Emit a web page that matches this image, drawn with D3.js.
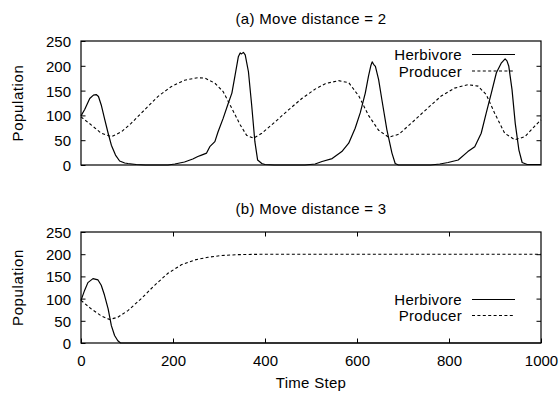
<!DOCTYPE html>
<html>
<head>
<meta charset="utf-8">
<script src="https://cdn.jsdelivr.net/npm/d3@7"></script>
<style>
  html, body { margin: 0; padding: 0; background: #fff; }
  svg text { font-family: "Liberation Sans", Arial, Helvetica, sans-serif; fill: #000; }
</style>
</head>
<body>
<svg id="chart" width="560" height="394"></svg>
<script>
// ---------------- DATA ----------------
const titles = ["(a) Move distance = 2", "(b) Move distance = 3"];
const seriesNames = ["Herbivore", "Producer"];
const yTicks = [0, 50, 100, 150, 200, 250];
const xTicks = [0, 200, 400, 600, 800, 1000];

// Panel (a): Herbivore [time, population]
const herbA = [
  [0,99],[8,112],[19,134],[27,141],[33,142],[38,138],[44,121],[51,94],[59,64],[66,40],[75,20],[84,8],
  [95,4],[102,3],[120,1],[140,0],[189,0],[204,2],[225,6],[243,12],[254,17],[262,20],[273,24],[280,37],
  [291,47],[298,67],[309,94],[320,124],[328,145],[335,181],[342,218],[346,226],[349,224],[353,227],
  [357,222],[364,188],[371,121],[378,47],[384,10],[393,3],[400,1],[420,0],[487,0],[509,2],[524,7],
  [546,13],[567,27],[582,44],[596,74],[607,105],[618,145],[625,179],[630,200],[633,208],[636,203],
  [640,199],[647,172],[654,132],[665,71],[676,24],[683,3],[690,0],[760,0],[780,2],[798,5],[820,10],
  [841,27],[856,37],[870,64],[881,105],[892,145],[903,186],[914,206],[918,210],[922,214],[926,210],
  [930,199],[937,152],[944,84],[952,30],[959,5],[970,1],[1000,1]
];
// Panel (a): Producer
const prodA = [
  [0,97],[22,81],[44,64],[66,57],[88,67],[109,84],[138,111],[167,138],[196,158],[225,171],[254,176],
  [270,175],[291,165],[309,148],[328,114],[346,81],[360,60],[375,54],[393,64],[422,87],[451,111],
  [480,134],[509,153],[531,164],[560,170],[582,166],[604,139],[625,100],[647,70],[669,56],[691,62],
  [720,86],[754,115],[783,139],[812,155],[841,162],[863,159],[881,142],[899,105],[921,64],[943,51],
  [965,57],[986,78],[1000,91]
];
// Panel (b): Herbivore
const herbB = [
  [0,96],[8,119],[15,136],[26,145],[37,142],[44,130],[51,108],[59,77],[66,39],[73,17],[80,5],[86,0],[1000,0]
];
// Panel (b): Producer
const prodB = [
  [0,96],[22,77],[44,61],[62,53],[80,58],[102,73],[131,100],[160,130],[189,157],[218,176],[247,187],
  [276,193],[305,197],[341,199],[400,200],[600,200],[1000,200]
];

// ---------------- LAYOUT ----------------
const svg = d3.select("#chart");
const X0 = 81, X1 = 541;
const panels = [
  { top: 41, bottom: 165, title: titles[0], herb: herbA, prod: prodA, xAxis: false,
    titleY: 24, legY: [60, 76.5] },
  { top: 232, bottom: 343, title: titles[1], herb: herbB, prod: prodB, xAxis: true,
    titleY: 214, legY: [305, 321] }
];
const x = d3.scaleLinear().domain([0, 1000]).range([X0, X1]);
const FS = 15;
const tickLen = 4.5;

panels.forEach(p => {
  const y = d3.scaleLinear().domain([0, 250]).range([p.bottom, p.top]);
  const g = svg.append("g");

  // title
  g.append("text").attr("x", (X0 + X1) / 2).attr("y", p.titleY)
    .attr("text-anchor", "middle").attr("font-size", FS).attr("letter-spacing", 0.3)
    .text(p.title);

  // y label
  g.append("text")
    .attr("transform", `translate(22.5,${(p.top + p.bottom) / 2}) rotate(-90)`)
    .attr("text-anchor", "middle").attr("font-size", FS).attr("letter-spacing", 0.6)
    .text("Population");

  // y ticks (left, inward) + mirror (right)
  const yAxL = d3.axisLeft(y).tickValues(yTicks).tickSize(-tickLen).tickPadding(10);
  const gyl = g.append("g").attr("transform", `translate(${X0},0)`).call(yAxL);
  gyl.select(".domain").remove();
  gyl.selectAll("text").attr("font-size", FS).attr("font-family", null).attr("dy", "0.36em").attr("x", -10);
  const yAxR = d3.axisRight(y).tickValues(yTicks.filter(v => v > 0 && v < 250)).tickSize(-tickLen).tickFormat("");
  const gyr = g.append("g").attr("transform", `translate(${X1},0)`).call(yAxR);
  gyr.select(".domain").remove();

  if (p.xAxis) {
    const xAxB = d3.axisBottom(x).tickValues(xTicks).tickSize(-tickLen).tickFormat(d3.format("d"));
    const gxb = g.append("g").attr("transform", `translate(0,${p.bottom})`).call(xAxB);
    gxb.select(".domain").remove();
    gxb.selectAll("text").attr("font-size", FS).attr("font-family", null).attr("dy", null).attr("y", 23);
    const xAxT = d3.axisTop(x).tickValues(xTicks.filter(v => v > 0 && v < 1000)).tickSize(-tickLen).tickFormat("");
    const gxt = g.append("g").attr("transform", `translate(0,${p.top})`).call(xAxT);
    gxt.select(".domain").remove();
  }
  g.selectAll(".tick line").attr("stroke", "#000").attr("stroke-width", 1);

  // series lines
  const line = d3.line().x(d => x(d[0])).y(d => y(d[1]));
  g.append("path").datum(p.prod).attr("d", line).attr("fill", "none")
    .attr("stroke", "#000").attr("stroke-width", 1.1).attr("stroke-dasharray", "3,2.4");
  g.append("path").datum(p.herb).attr("d", line).attr("fill", "none")
    .attr("stroke", "#000").attr("stroke-width", 1.2).attr("stroke-linejoin", "round");

  // border
  g.append("rect").attr("x", X0).attr("y", p.top).attr("width", X1 - X0).attr("height", p.bottom - p.top)
    .attr("fill", "none").attr("stroke", "#000").attr("stroke-width", 1.2);

  // legend
  const legTextX = 462, legL0 = 472, legL1 = 515;
  seriesNames.forEach((name, i) => {
    const by = p.legY[i];
    g.append("text").attr("x", legTextX).attr("y", by).attr("text-anchor", "end")
      .attr("font-size", FS).attr("letter-spacing", 0.3).text(name);
    g.append("line").attr("x1", legL0).attr("x2", legL1).attr("y1", by - 5.5).attr("y2", by - 5.5)
      .attr("stroke", "#000").attr("stroke-width", i === 0 ? 1.2 : 1.1)
      .attr("stroke-dasharray", i === 0 ? null : "3,2.4");
  });
});

// x label
svg.append("text").attr("x", (X0 + X1) / 2).attr("y", 388).attr("text-anchor", "middle")
  .attr("font-size", FS).attr("letter-spacing", 0.3).text("Time Step");
</script>
</body>
</html>
